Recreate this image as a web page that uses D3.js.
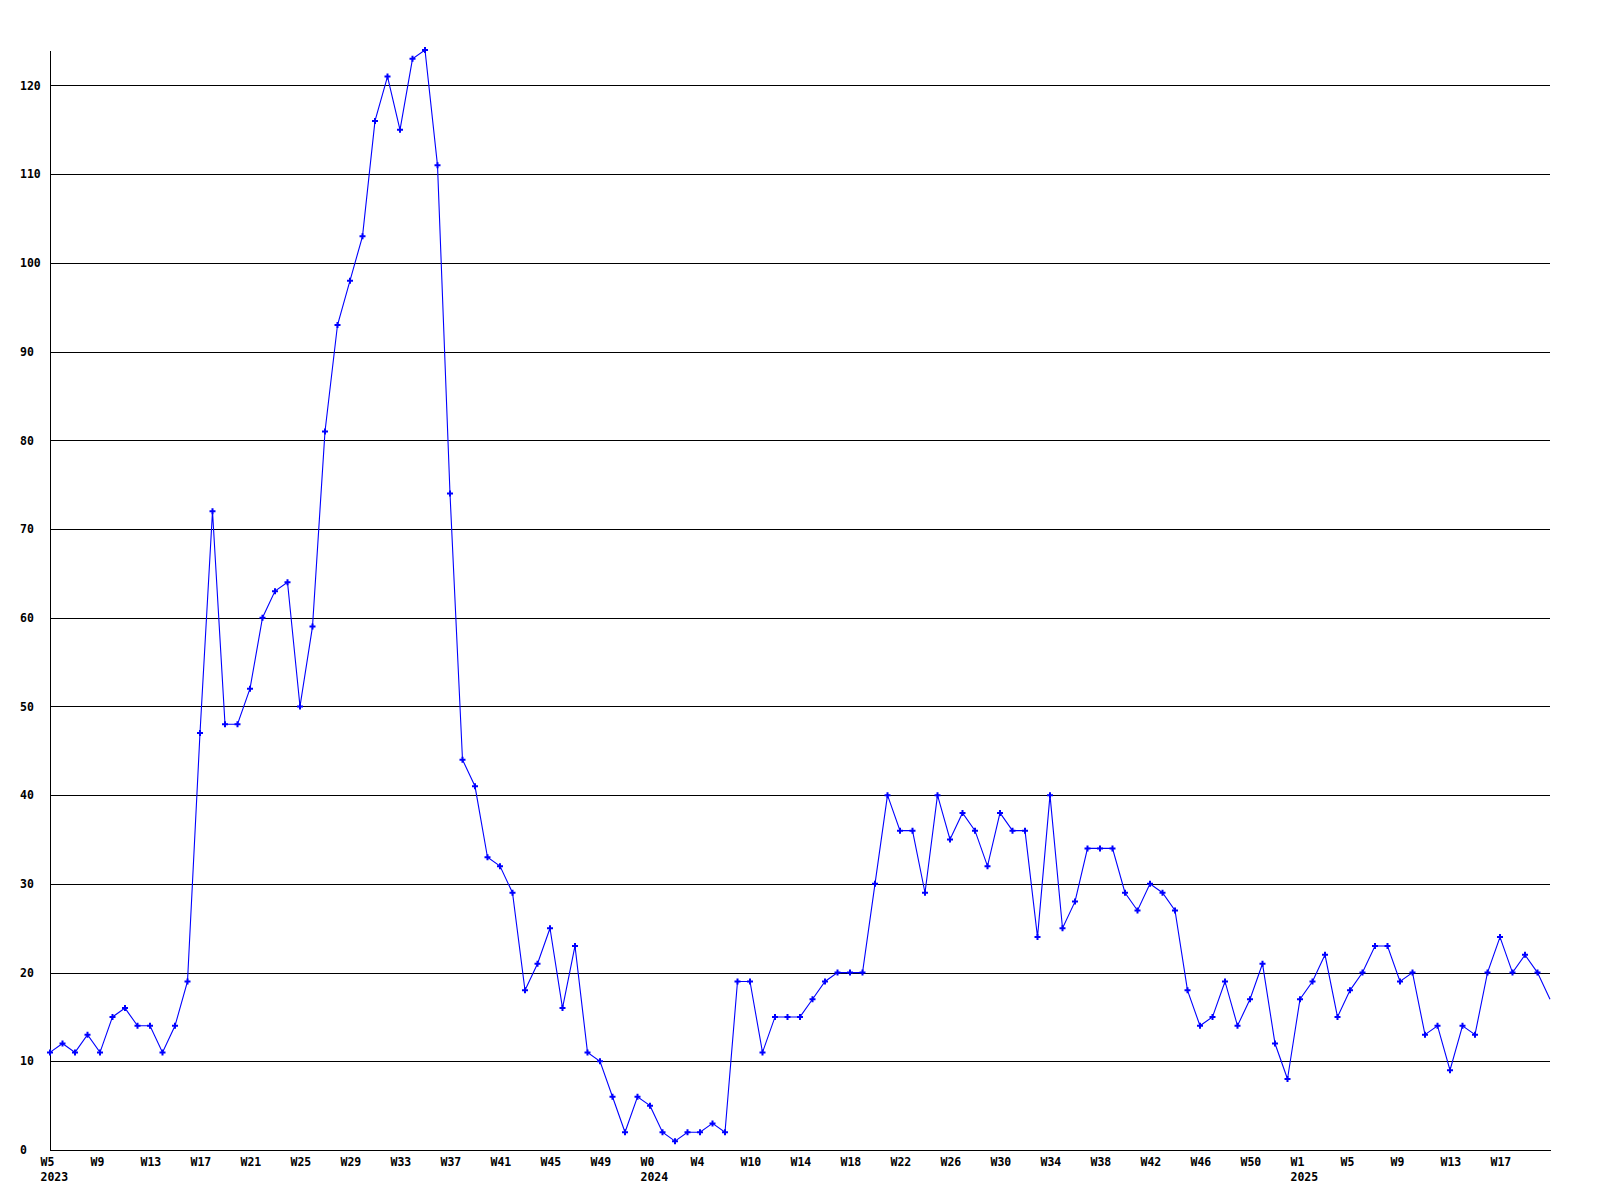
<!DOCTYPE html>
<html><head><meta charset="utf-8">
<script src="https://cdn.jsdelivr.net/npm/d3@7"></script>
<style>
body{margin:0;background:#fff}
svg{display:block;background:#fff}
text{font-family:"DejaVu Sans Mono","Liberation Mono",monospace;font-weight:bold;font-size:11.5px;fill:#000}
</style>
</head><body><svg id="chart" width="1600" height="1200"></svg>
<script>
// weekly values, 2023 W5 .. 2025 W20
const values = [11,12,11,13,11,15,16,14,14,11,14,19,47,72,48,48,52,60,63,64,50,59,81,93,98,103,116,121,115,123,124,111,74,44,41,33,32,29,18,21,25,16,23,11,10,6,2,6,5,2,1,2,2,3,2,19,19,11,15,15,15,17,19,20,20,20,30,40,36,36,29,40,35,38,36,32,38,36,36,24,40,25,28,34,34,34,29,27,30,29,27,18,14,15,19,14,17,21,12,8,17,19,22,15,18,20,23,23,19,20,13,14,9,14,13,20,24,20,22,20,17];
const tickLabels = ["W5","W9","W13","W17","W21","W25","W29","W33","W37","W41","W45","W49","W0","W4","W10","W14","W18","W22","W26","W30","W34","W38","W42","W46","W50","W1","W5","W9","W13","W17"];
const yearLabels = ["2023","2024","2025"];
const yearTickIndex = [0,12,25];
const yTicks = [0,10,20,30,40,50,60,70,80,90,100,110,120];

const W=1600,H=1200,m={l:50,r:50,t:50,b:50};
const svg=d3.select("#chart");
const x=d3.scaleLinear().domain([0,values.length-1]).range([m.l,W-m.r]);
const y=d3.scaleLinear().domain([0,d3.max(values)]).range([H-m.b,m.t]);
const tickStep=4;

// grid
const grid=svg.append("g").attr("transform",`translate(${m.l},0)`)
  .call(d3.axisLeft(y).tickValues(yTicks.filter(v=>v>0)).tickSize(-(W-m.l-m.r)).tickFormat(""));
grid.select(".domain").remove();
grid.selectAll("line").attr("stroke","#000").attr("shape-rendering","crispEdges");

// y axis
const ya=svg.append("g").attr("transform",`translate(${m.l},0)`)
  .call(d3.axisLeft(y).tickValues(yTicks).tickSize(0).tickSizeOuter(0));
ya.attr("font-family",null).attr("font-size",null);
ya.select(".domain").attr("stroke","#000").attr("shape-rendering","crispEdges");
ya.selectAll("text").attr("text-anchor","start").attr("x",20-m.l).attr("fill","#000");

// x axis
const xa=svg.append("g").attr("transform",`translate(0,${H-m.b})`)
  .call(d3.axisBottom(x).tickValues(d3.range(0,values.length-1,tickStep)).tickSize(0).tickSizeOuter(0)
    .tickFormat(i=>tickLabels[i/tickStep]));
xa.attr("font-family",null).attr("font-size",null);
xa.select(".domain").attr("stroke","#000").attr("shape-rendering","crispEdges");
xa.selectAll(".tick text").attr("text-anchor","start").attr("x",-10).attr("y",16).attr("dy",null).attr("fill","#000")
  .each(function(i){
    const k=yearTickIndex.indexOf(i/tickStep);
    if(k>=0){
      d3.select(this).append("tspan").attr("x",-10).attr("dy",15).text(yearLabels[k]);
    }
  });

// line
svg.append("path").datum(values)
  .attr("fill","none").attr("stroke","#0000ff").attr("stroke-width",1.1)
  .attr("d",d3.line().x((d,i)=>x(i)).y(d=>y(d)));

// markers
svg.append("g").selectAll("path").data(values.slice(0,-1)).join("path")
  .attr("transform",(d,i)=>`translate(${x(i)},${y(d)})`)
  .attr("d",d3.symbol(d3.symbolCross).size(20))
  .attr("fill","#0000ff");
</script>
</body></html>
